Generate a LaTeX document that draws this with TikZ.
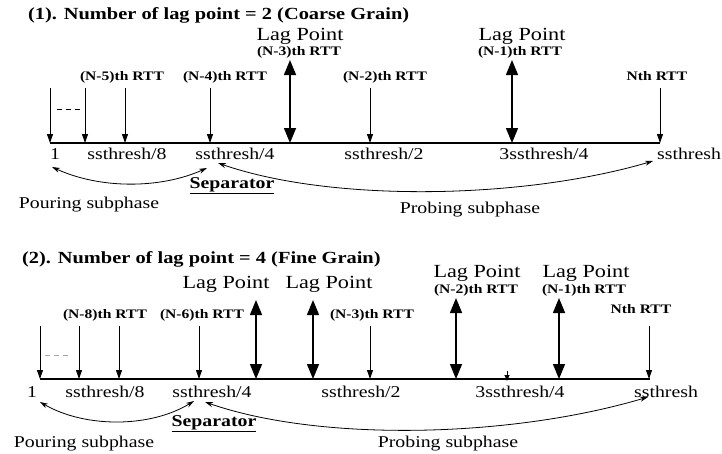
\documentclass[tikz,border=0pt]{standalone}
\usepackage{fontspec}
\setmainfont[FakeStretch=1.2]{Liberation Serif}
\usetikzlibrary{arrows.meta}
\tikzset{
  txt/.style={anchor=base,inner sep=0pt},
  ttl/.style={txt,anchor=base west,font=\fontsize{17}{20}\selectfont\bfseries},
  lagtxt/.style={txt,font=\fontsize{18.5}{22}\selectfont},
  rtt/.style={txt,font=\fontsize{13}{15}\selectfont\bfseries},
  lbl/.style={txt,font=\fontsize{16.5}{19}\selectfont},
  axis/.style={line width=1.6pt},
  tick/.style={line width=0.9pt,-{Triangle[length=9pt,width=6pt]}},
  lag/.style={line width=1.5pt,{Triangle[length=15pt,width=12pt]}-{Triangle[length=15pt,width=12pt]}},
  curv/.style={line width=0.8pt,{Stealth[length=8pt,width=5pt]}-{Stealth[length=8pt,width=5pt]}},
  dots/.style={line width=0.9pt,dash pattern=on 5pt off 4pt}
}
\begin{document}
\begin{tikzpicture}[x=1pt,y=-1pt]
\useasboundingbox (0,0) rectangle (722,453);
% ---------------- Diagram 1 ----------------
\node[ttl] (t1) at (28,19) {(1). Number of lag point = 2 (Coarse Grain)};
\coordinate (A1s) at (50,143); \coordinate (A1e) at (660,143);
\draw[axis] (A1s) -- (A1e);
\foreach \x/\n in {50/a,85/b,125/c,210/d,370/e,660/f}{
  \coordinate (u1\n) at (\x,88); \coordinate (d1\n) at (\x,143);
  \draw[tick] (u1\n) -- (d1\n);
}
\foreach \x/\n in {290/a,512/b}{
  \coordinate (lu1\n) at (\x,60); \coordinate (ld1\n) at (\x,143);
  \draw[lag] (lu1\n) -- (ld1\n);
}
\coordinate (ds1a) at (57,109); \coordinate (ds1b) at (81,109);
\draw[dots] (ds1a) -- (ds1b);
\node[rtt] (r15) at (122,80) {(N-5)th RTT};
\node[rtt] (r14) at (225,80) {(N-4)th RTT};
\node[lagtxt] (lp1a) at (300,40) {Lag Point};
\node[rtt] (r13) at (299,55) {(N-3)th RTT};
\node[rtt] (r12) at (385,80) {(N-2)th RTT};
\node[lagtxt] (lp1b) at (522,40) {Lag Point};
\node[rtt] (r11) at (520,55) {(N-1)th RTT};
\node[rtt] (r1n) at (657,80) {Nth RTT};
\node[lbl] (x11) at (55,159) {1};
\node[lbl] (x18) at (127,159) {ssthresh/8};
\node[lbl] (x14) at (235,159) {ssthresh/4};
\node[lbl] (x12) at (384,159) {ssthresh/2};
\node[lbl] (x134) at (544,159) {3ssthresh/4};
\node[lbl] (x1s) at (689,159) {ssthresh};
\node[lbl,font=\fontsize{16.5}{19}\selectfont\bfseries] (sep1) at (232,188) {\underline{Separator}};
\node[lbl] (pour1) at (89,208) {Pouring subphase};
\node[lbl] (prob1) at (470,213) {Probing subphase};
\coordinate (c1a) at (207,168); \coordinate (c1b) at (52,167);
\draw[curv] (c1a) .. controls (160,189) and (100,189) .. (c1b);
\coordinate (c1c) at (218,163); \coordinate (c1d) at (653,161);
\draw[curv] (c1c) .. controls (330,202) and (520,200) .. (c1d);
% ---------------- Diagram 2 ----------------
\node[ttl] (t2) at (22,263) {(2). Number of lag point = 4 (Fine Grain)};
\coordinate (A2s) at (40,379); \coordinate (A2e) at (650,379);
\draw[axis] (A2s) -- (A2e);
\foreach \x/\n in {40/a,79/b,119/c,199/d,370/e,649/f}{
  \coordinate (u2\n) at (\x,326); \coordinate (d2\n) at (\x,379);
  \draw[tick] (u2\n) -- (d2\n);
}
\coordinate (u2g) at (507,371); \coordinate (d2g) at (507,381);
\draw[line width=0.9pt,-{Triangle[length=6pt,width=5pt]}] (u2g) -- (d2g);
\foreach \x/\y/\n in {256/300/a,313/300/b,456/298/c,559/298/d}{
  \coordinate (lu2\n) at (\x,\y); \coordinate (ld2\n) at (\x,379);
  \draw[lag] (lu2\n) -- (ld2\n);
}
\coordinate (ds2a) at (45,355); \coordinate (ds2b) at (69,355);
\draw[dots,gray!70] (ds2a) -- (ds2b);
\node[rtt] (r28) at (105,318) {(N-8)th RTT};
\node[rtt] (r26) at (202,318) {(N-6)th RTT};
\node[lagtxt] (lp2a) at (226,288) {Lag Point};
\node[lagtxt] (lp2b) at (329,288) {Lag Point};
\node[rtt] (r23) at (372,318) {(N-3)th RTT};
\node[lagtxt] (lp2c) at (477,277) {Lag Point};
\node[rtt] (r22) at (476,293) {(N-2)th RTT};
\node[lagtxt] (lp2d) at (586,277) {Lag Point};
\node[rtt] (r21) at (584,293) {(N-1)th RTT};
\node[rtt] (r2n) at (641,313) {Nth RTT};
\node[lbl] (x21) at (32,397) {1};
\node[lbl] (x28) at (105,397) {ssthresh/8};
\node[lbl] (x24) at (212,397) {ssthresh/4};
\node[lbl] (x22) at (361,397) {ssthresh/2};
\node[lbl] (x234) at (520,397) {3ssthresh/4};
\node[lbl] (x2s) at (666,397) {ssthresh};
\node[lbl,font=\fontsize{16.5}{19}\selectfont\bfseries] (sep2) at (214,426) {\underline{Separator}};
\node[lbl] (pour2) at (84,447) {Pouring subphase};
\node[lbl] (prob2) at (448,447) {Probing subphase};
\coordinate (c2a) at (194,401); \coordinate (c2b) at (40,402);
\draw[curv] (c2a) .. controls (150,428) and (85,428) .. (c2b);
\coordinate (c2c) at (205,402); \coordinate (c2d) at (648,397);
\draw[curv] (c2c) .. controls (320,442) and (510,438) .. (c2d);
\end{tikzpicture}
\end{document}
